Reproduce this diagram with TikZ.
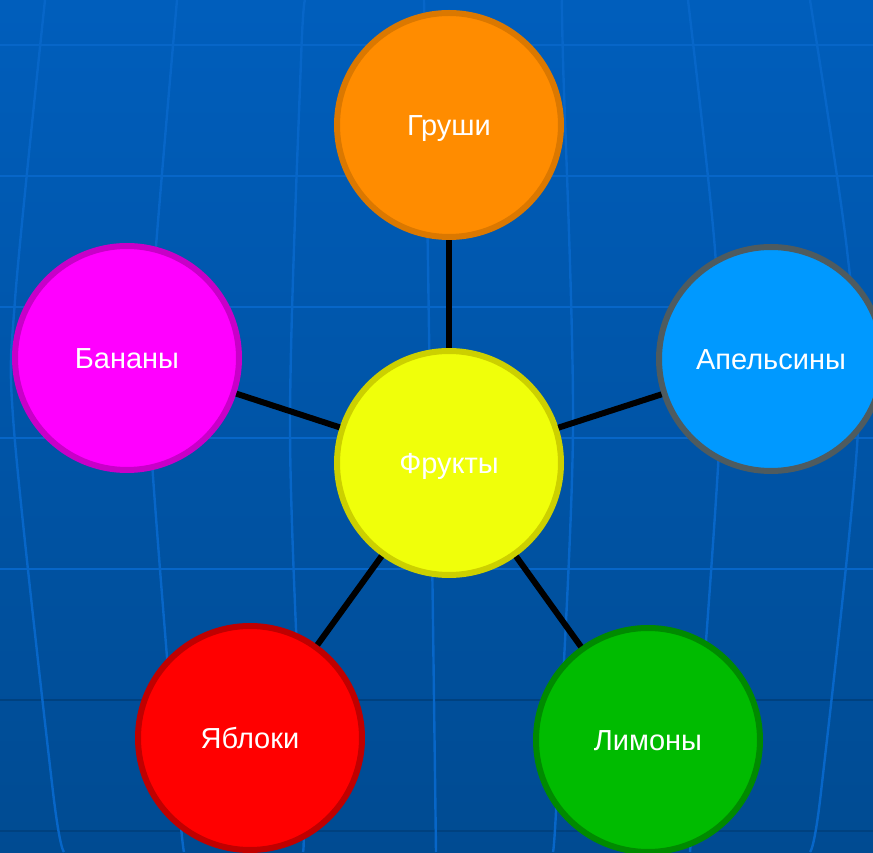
\documentclass[tikz,border=0pt]{standalone}
\usepackage{fontspec}
\setmainfont{Liberation Sans}
\usepackage{xcolor}
\usepackage{tikz}
\definecolor{bgtop}{HTML}{005EBC}
\definecolor{bgbot}{HTML}{004B92}
\definecolor{gridlt}{HTML}{0766C8}
\definecolor{griddk}{HTML}{00417F}
\definecolor{pear}{HTML}{FF8C00}
\definecolor{pearB}{HTML}{DB7800}
\definecolor{banana}{HTML}{FF00FF}
\definecolor{bananaB}{HTML}{C800C8}
\definecolor{orange}{HTML}{0099FF}
\definecolor{orangeB}{HTML}{4E5B5F}
\definecolor{fruit}{HTML}{F0FF0A}
\definecolor{fruitB}{HTML}{CCD000}
\definecolor{apple}{HTML}{FF0000}
\definecolor{appleB}{HTML}{C00000}
\definecolor{lemon}{HTML}{00BB00}
\definecolor{lemonB}{HTML}{008A00}

\begin{document}
\begin{tikzpicture}[x=1pt,y=1pt,
  ball/.style={circle, minimum size=224pt, inner sep=0pt, line width=6pt, text=white,
    text height=22pt, text depth=1pt, font=\fontsize{29}{31}\selectfont},
  link/.style={black, line width=6pt},
  gline/.style={gridlt, line width=2.4pt}]
% background
\shade[top color=bgtop, bottom color=bgbot] (0,0) rectangle (873,852);
\useasboundingbox (0,0) rectangle (873,852);
\foreach \y in {807,676,545,414,283} \draw[gline] (0,\y) -- (873,\y);
\foreach \y in {152,21} \draw[griddk, line width=2.6pt] (0,\y) -- (873,\y);
\draw[gline] plot[smooth] coordinates {(45,852) (15,552) (14,422) (53,60) (64,0)};
\draw[gline] plot[smooth] coordinates {(177,852) (152,552) (150,422) (178,60) (184,0)};
\draw[gline] plot[smooth] coordinates {(305,852) (301,792) (290,422) (303,60) (303,0)};
\draw[gline] plot[smooth] coordinates {(424,852) (430,452) (436,0)};
\draw[gline] plot[smooth] coordinates {(562,852) (563,792) (573,422) (557,60) (553,0)};
\draw[gline] plot[smooth] coordinates {(688,852) (715,602) (720,422) (690,0)};
\draw[gline] plot[smooth] coordinates {(810,852) (847,602) (858,422) (821,60) (810,0)};

% circles
\node[ball, fill=fruit, draw=fruitB]   (fr)  at (449,389) {Фрукты};
\node[ball, fill=pear, draw=pearB]     (gr)  at (449,727) {Груши};
\node[ball, fill=banana, draw=bananaB] (ban) at (127,494) {Бананы};
\node[ball, fill=orange, draw=orangeB] (apl) at (771,493) {Апельсины};
\node[ball, fill=apple, draw=appleB]   (yab) at (250,114) {Яблоки};
\node[ball, fill=lemon, draw=lemonB]   (lim) at (648,112) {Лимоны};

\foreach \n in {gr,ban,apl,yab,lim} \draw[link] (fr) -- (\n);
\end{tikzpicture}
\end{document}
